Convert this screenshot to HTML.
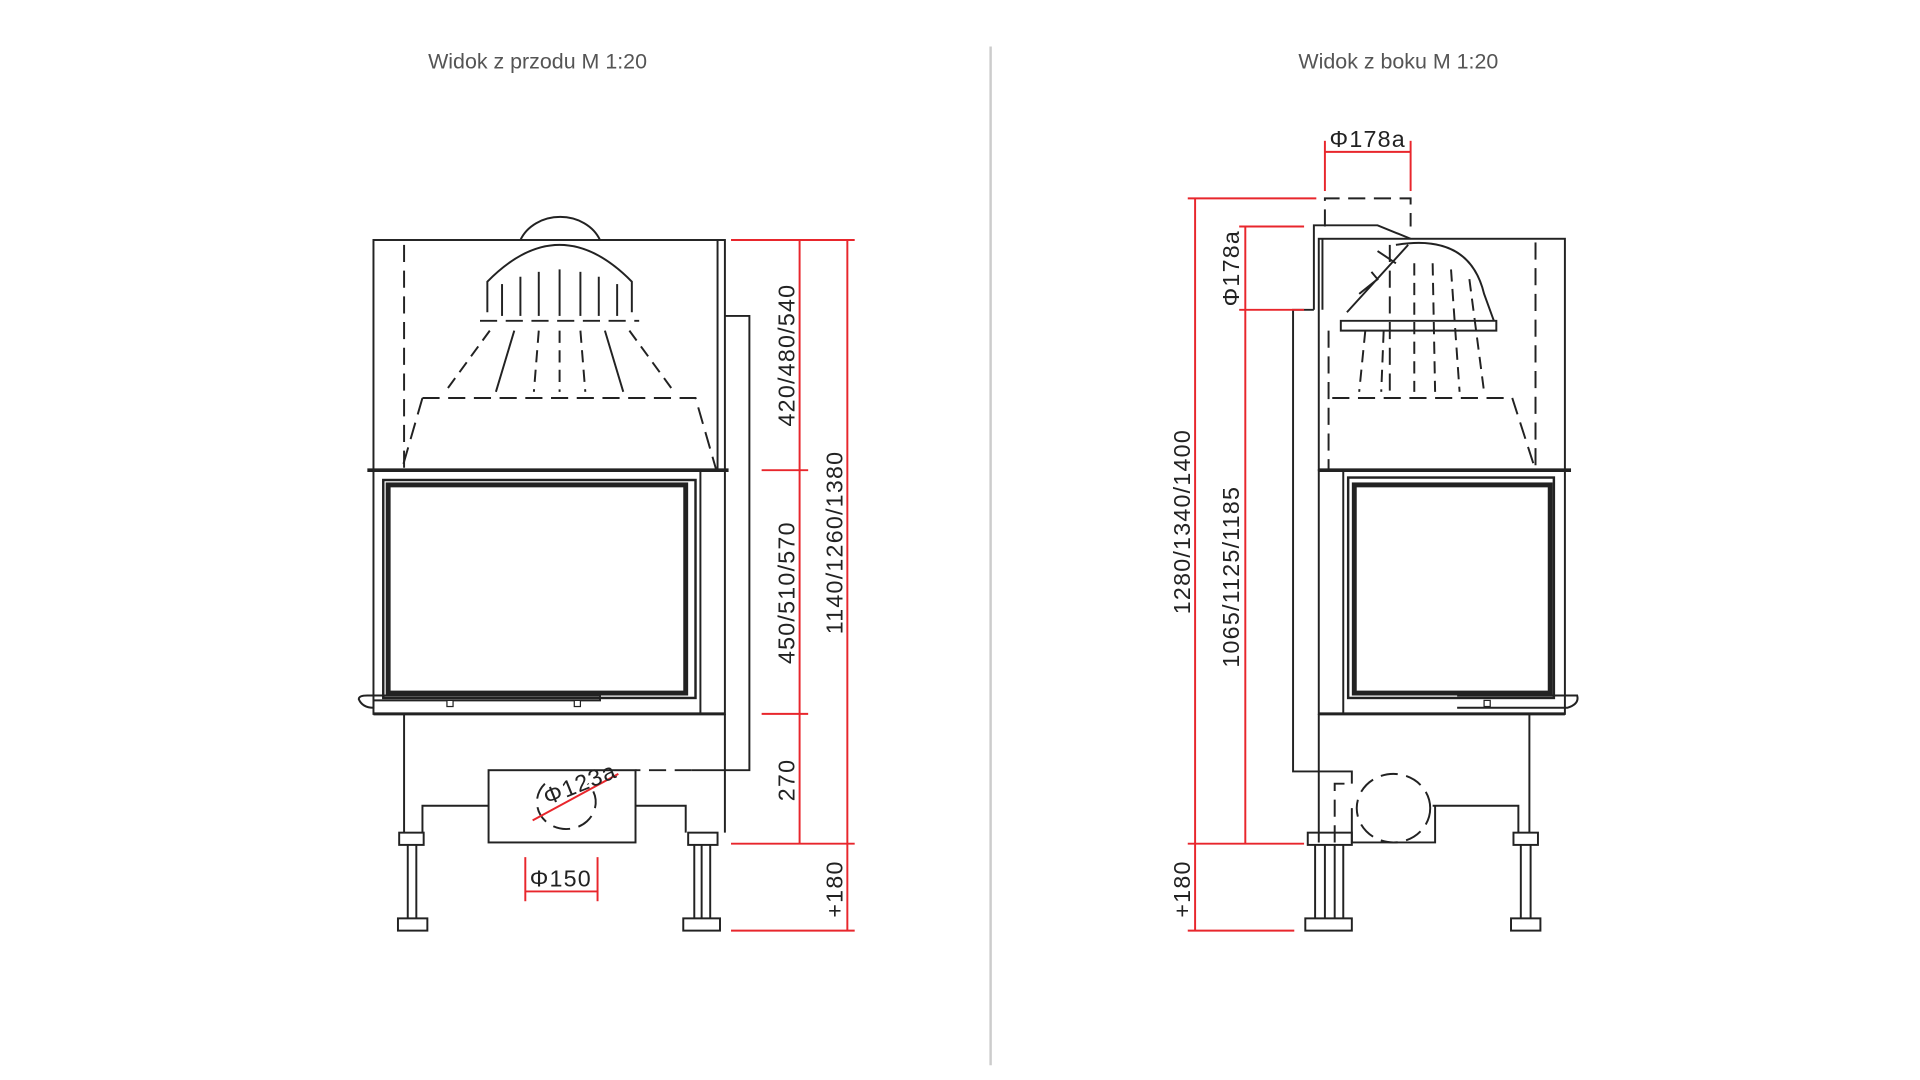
<!DOCTYPE html>
<html><head><meta charset="utf-8"><style>
html,body{margin:0;padding:0;background:#fff;}
svg{display:block;}
.t{font-family:"Liberation Sans",sans-serif;font-size:17.5px;fill:#555;}
.d{font-family:"Liberation Sans",sans-serif;font-size:19px;fill:#222;letter-spacing:1px;}
.k{stroke:#222;fill:none;stroke-width:1.6;}
.kd{stroke:#222;fill:none;stroke-width:1.6;stroke-dasharray:14 7;}
.r{stroke:#e8262c;fill:none;stroke-width:1.6;}
</style></head><body>
<svg width="1920" height="1080" viewBox="0 0 1568 882" xmlns="http://www.w3.org/2000/svg">
<text class="t" x="439" y="56" text-anchor="middle">Widok z przodu M 1:20</text>
<text class="t" x="1142" y="56" text-anchor="middle">Widok z boku M 1:20</text>
<line x1="809" y1="38" x2="809" y2="870" stroke="#ccc" stroke-width="2"/>

<!-- FRONT VIEW -->
<g>
<rect class="k" x="305" y="196" width="287" height="188"/>
<line class="k" x1="586" y1="196" x2="586" y2="384"/>
<line class="kd" x1="330" y1="200" x2="330" y2="384"/>
<path class="k" d="M425 196 A35 30 0 0 1 490 196"/>
<path class="k" d="M398 255 L398 230 Q457 170 516 230 L516 255"/>
<path class="kd" d="M392 262 L522 262 M345 325 L568 325 L585 384 M345 325 L328 384"/>
<g stroke="#222" stroke-width="1.6">
<line x1="410" y1="232" x2="410" y2="258"/><line x1="425" y1="226" x2="425" y2="258"/><line x1="440" y1="222" x2="440" y2="258"/><line x1="457" y1="220" x2="457" y2="258"/><line x1="474" y1="222" x2="474" y2="258"/><line x1="489" y1="226" x2="489" y2="258"/><line x1="504" y1="232" x2="504" y2="258"/>
<line x1="400" y1="270" x2="365" y2="318" stroke-dasharray="10 6"/><line x1="420" y1="270" x2="405" y2="320"/><line x1="440" y1="270" x2="436" y2="320" stroke-dasharray="10 6"/><line x1="457" y1="270" x2="457" y2="320" stroke-dasharray="10 6"/><line x1="474" y1="270" x2="478" y2="320" stroke-dasharray="10 6"/><line x1="494" y1="270" x2="509" y2="320"/><line x1="514" y1="270" x2="549" y2="318" stroke-dasharray="10 6"/>
</g>
<line x1="300" y1="384" x2="595" y2="384" stroke="#222" stroke-width="3"/>
<rect class="k" x="305" y="384" width="287" height="199"/>
<rect x="313" y="392" width="255" height="178" fill="none" stroke="#222" stroke-width="2"/>
<rect x="317" y="396" width="243" height="170" fill="none" stroke="#222" stroke-width="4"/>
<line class="k" x1="572" y1="384" x2="572" y2="583"/>
<path class="k" d="M293 571 Q293 568 300 568 L490 568 L490 572 L305 572 L305 578 Q296 578 293 571Z"/>
<line x1="305" y1="583" x2="592" y2="583" stroke="#222" stroke-width="2.5"/>
<rect x="365" y="572" width="5" height="5" fill="#fff" stroke="#222"/>
<rect x="469" y="572" width="5" height="5" fill="#fff" stroke="#222"/>
<path class="k" d="M592 258 L612 258 L612 629 L565 629"/>
<path class="kd" d="M565 629 L519 629"/>
<path class="k" d="M330 583 L330 680 M592 583 L592 680 M345 680 L345 658 L399 658 M519 658 L560 658 L560 680"/>
<rect class="k" x="399" y="629" width="120" height="59"/>
<path class="kd" d="M445 640 A24 22 0 1 0 480 640"/>
<g stroke="#222" stroke-width="1.6" fill="none">
<rect x="326" y="680" width="20" height="10"/><rect x="325" y="750" width="24" height="10"/>
<line x1="333" y1="690" x2="333" y2="750"/><line x1="340" y1="690" x2="340" y2="750"/>
<rect x="562" y="680" width="24" height="10"/><rect x="558" y="750" width="30" height="10"/>
<line x1="567" y1="690" x2="567" y2="750"/><line x1="573" y1="690" x2="573" y2="750"/><line x1="580" y1="690" x2="580" y2="750"/>
</g>
<g class="r">
<line x1="597" y1="196" x2="698" y2="196"/>
<line x1="622" y1="384" x2="660" y2="384"/>
<line x1="622" y1="583" x2="660" y2="583"/>
<line x1="597" y1="689" x2="698" y2="689"/>
<line x1="597" y1="760" x2="698" y2="760"/>
<line x1="653" y1="196" x2="653" y2="689"/>
<line x1="692" y1="196" x2="692" y2="760"/>
<line x1="429" y1="700" x2="429" y2="736"/><line x1="488" y1="700" x2="488" y2="736"/>
<line x1="429" y1="728" x2="488" y2="728"/>
<line x1="435" y1="670" x2="505" y2="632"/>
</g>
<text class="d" transform="translate(649 290) rotate(-90)" text-anchor="middle">420/480/540</text>
<text class="d" transform="translate(649 484) rotate(-90)" text-anchor="middle">450/510/570</text>
<text class="d" transform="translate(649 637) rotate(-90)" text-anchor="middle">270</text>
<text class="d" transform="translate(688 443) rotate(-90)" text-anchor="middle">1140/1260/1380</text>
<text class="d" transform="translate(688 726) rotate(-90)" text-anchor="middle">+180</text>
<text class="d" x="458" y="724" text-anchor="middle">Φ150</text>
<text class="d" transform="translate(476 646) rotate(-22)" text-anchor="middle">Φ123a</text>
</g>

<!-- SIDE VIEW -->
<g>
<path class="kd" d="M1082 185 L1082 162 L1152 162 L1152 185"/>
<rect class="k" x="1077" y="195" width="201" height="189"/>
<path class="k" d="M1073 253 L1073 184 L1125 184 L1152 195 M1080 195 L1080 253"/>
<line class="kd" x1="1254" y1="198" x2="1254" y2="384"/>
<line class="kd" x1="1085" y1="270" x2="1085" y2="384"/>
<line class="kd" x1="1135" y1="200" x2="1135" y2="325"/>
<path class="k" d="M1140 200 Q1200 190 1212 240 L1220 262"/>
<path class="k" d="M1095 262 L1222 262 L1222 270 L1095 270Z"/>
<path class="k" d="M1100 255 L1150 200 M1110 240 L1125 228 L1120 222 M1125 205 L1140 215"/>
<path class="kd" d="M1088 325 L1235 325 L1254 384"/>
<g stroke="#222" stroke-width="1.6" stroke-dasharray="10 6">
<line x1="1155" y1="215" x2="1155" y2="320"/><line x1="1170" y1="215" x2="1172" y2="320"/><line x1="1185" y1="220" x2="1192" y2="320"/><line x1="1200" y1="228" x2="1212" y2="320"/><line x1="1115" y1="270" x2="1110" y2="320"/><line x1="1130" y1="270" x2="1128" y2="320"/>
</g>
<line x1="1077" y1="384" x2="1283" y2="384" stroke="#222" stroke-width="3"/>
<rect class="k" x="1077" y="384" width="201" height="199"/>
<rect x="1101" y="390" width="168" height="180" fill="none" stroke="#222" stroke-width="2"/>
<rect x="1106" y="396" width="160" height="170" fill="none" stroke="#222" stroke-width="4"/>
<line class="k" x1="1097" y1="384" x2="1097" y2="583"/>
<path class="k" d="M1190 568 L1288 568 Q1290 575 1280 578 L1190 578"/>
<line x1="1077" y1="583" x2="1278" y2="583" stroke="#222" stroke-width="2.5"/>
<rect x="1212" y="572" width="5" height="5" fill="#fff" stroke="#222"/>
<path class="k" d="M1073 253 L1056 253 L1056 630 L1104 630 L1104 640"/>
<path class="k" d="M1077 583 L1077 688 M1249 583 L1249 680 M1240 680 L1240 658 L1170 658 M1104 660 L1104 688 L1172 688 L1172 658"/>
<path class="kd" d="M1090 688 L1090 640 L1104 640"/>
<ellipse class="kd" cx="1138" cy="660" rx="30" ry="28"/>
<g stroke="#222" stroke-width="1.6" fill="none">
<rect x="1068" y="680" width="36" height="10"/><rect x="1066" y="750" width="38" height="10"/>
<line x1="1074" y1="690" x2="1074" y2="750"/><line x1="1082" y1="690" x2="1082" y2="750"/><line x1="1090" y1="690" x2="1090" y2="750"/><line x1="1097" y1="690" x2="1097" y2="750"/>
<rect x="1236" y="680" width="20" height="10"/><rect x="1234" y="750" width="24" height="10"/>
<line x1="1242" y1="690" x2="1242" y2="750"/><line x1="1250" y1="690" x2="1250" y2="750"/>
</g>
<g class="r">
<line x1="1082" y1="115" x2="1082" y2="156"/><line x1="1152" y1="115" x2="1152" y2="156"/>
<line x1="1082" y1="124" x2="1152" y2="124"/>
<line x1="970" y1="162" x2="1075" y2="162"/>
<line x1="1012" y1="185" x2="1065" y2="185"/>
<line x1="1012" y1="253" x2="1065" y2="253"/>
<line x1="970" y1="689" x2="1065" y2="689"/>
<line x1="970" y1="760" x2="1057" y2="760"/>
<line x1="976" y1="162" x2="976" y2="760"/>
<line x1="1017" y1="185" x2="1017" y2="689"/>
</g>
<text class="d" x="1117" y="120" text-anchor="middle">Φ178a</text>
<text class="d" transform="translate(1012 219) rotate(-90)" text-anchor="middle">Φ178a</text>
<text class="d" transform="translate(1012 471) rotate(-90)" text-anchor="middle">1065/1125/1185</text>
<text class="d" transform="translate(972 426) rotate(-90)" text-anchor="middle">1280/1340/1400</text>
<text class="d" transform="translate(972 726) rotate(-90)" text-anchor="middle">+180</text>
</g>
</svg>
</body></html>
